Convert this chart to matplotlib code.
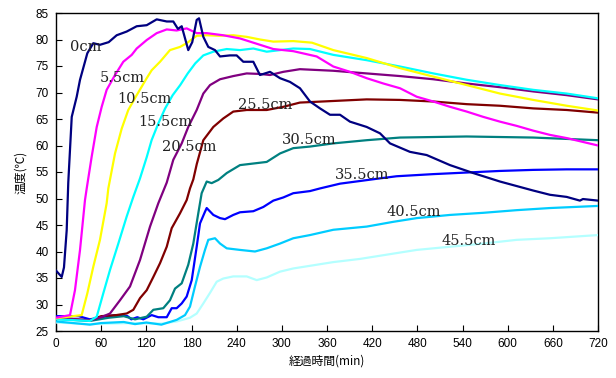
import matplotlib
matplotlib.use("Agg")
import matplotlib.pyplot as plt

labels = ["0cm", "5.5cm", "10.5cm", "15.5cm", "20.5cm", "25.5cm",
          "30.5cm", "35.5cm", "40.5cm", "45.5cm"]
colors = ["#000080", "#FF00FF", "#FFFF00", "#00FFFF", "#800080", "#800000",
          "#008080", "#0000FF", "#00CCFF", "#B4FFFF"]

t_0 = [0, 7.6, 10.6, 14.2, 16.3, 20.9, 27.5, 31.9, 38.5, 41.6, 49.5, 58.4, 70, 80.6, 93.9, 107.2,
       120.5, 133.8, 147.1, 155.8, 162, 167, 175.7, 181, 186.9, 190, 195.7, 202.3, 211.2, 217.9,
       231.1, 240, 248.8, 262.1, 270.9, 284.3, 297.6, 310.8, 324.1, 337.4, 350.7, 364, 377.3,
       390.5, 412.7, 430.4, 443.7, 470.2, 492.4, 523.4, 554.3, 589.8, 634, 656.2, 678.4, 696, 700, 720]
T_0 = [36.4, 35.2, 37, 44, 53, 65.4, 69.2, 72.4, 75.8, 77.4, 79.3, 79.0, 79.5, 80.8, 81.5, 82.5,
       82.7, 83.8, 83.4, 83.4, 82.0, 82.5, 78, 79.5, 83.7, 84, 80.5, 78.6, 78, 76.8,
       77, 77, 75.8, 75.8, 73.3, 73.9, 72.7, 72, 70.8, 68.3, 67, 65.8, 65.8,
       64.5, 63.5, 62.3, 60.4, 58.8, 58.2, 56.3, 54.8, 53.2, 51.5, 50.7, 50.3, 49.6, 49.9, 49.6]

t_5 = [0, 18.6, 25.2, 31.9, 38.5, 40.8, 47.4, 54.1, 60.7, 67.3, 78.4, 89.4, 100.6, 107.2, 120.5,
       133.8, 147.1, 160.3, 173.6, 186.9, 200.2, 222.2, 244.4, 271, 288.7, 315.2, 346.3, 368.4,
       390.5, 412.7, 434.8, 457, 479.2, 501.2, 523.4, 545.6, 567.6, 589.8, 612, 634, 656.2, 678.4, 720]
T_5 = [27.5, 28, 32.7, 40.3, 49.7, 51.9, 57.9, 63.5, 67.3, 70.5, 73.3, 75.8, 77.1, 78.3, 79.9,
       81.2, 81.9, 81.7, 82.1, 81.2, 81.2, 80.8, 80.2, 79, 78.2, 77.8, 76.8, 74.9,
       73.9, 72.7, 71.7, 70.8, 69.2, 68.3, 67.3, 66.4, 65.4, 64.5, 63.7, 62.8, 62, 61.4, 60]

t_10 = [0, 34.1, 41.6, 49.5, 58.4, 67.3, 69.5, 78.4, 87.3, 96, 107.2, 120.5, 127.1, 138.2, 151.4,
        164.7, 173.6, 186.9, 200.2, 217.9, 235.5, 253.3, 271, 288.7, 315.2, 340, 368.4, 412.7,
        457, 501.2, 545.6, 589.8, 634, 678.4, 720]
T_10 = [27.4, 28, 32.1, 37.1, 42.2, 49.1, 51.9, 58.5, 63.2, 66.7, 69.5, 72.7, 74.2, 75.8, 78,
        78.6, 79.3, 80.7, 80.8, 80.7, 80.8, 80.5, 80, 79.6, 79.7, 79.4, 78, 76.5,
        74.6, 73, 71.4, 69.8, 68.6, 67.5, 66.6]

t_15 = [0, 45, 54.1, 62.8, 71.7, 82.8, 93.9, 102.7, 111.6, 120.5, 127, 136, 145, 155, 165, 175,
        185, 195.7, 209, 226.8, 244.4, 262.1, 279.9, 297.6, 315.2, 337.4, 368.4, 412.7, 457,
        501.2, 545.6, 589.8, 634, 678.4, 720]
T_15 = [27.2, 26.9, 27.7, 32.1, 36.5, 41.5, 46.6, 50.3, 53.8, 57.8, 61, 64.2, 67, 69.5, 71.4, 73.6,
        75.5, 77, 77.7, 78.2, 78, 78.3, 77.7, 78, 78.3, 78.2, 77.1, 76.1, 74.9,
        73.6, 72.4, 71.4, 70.5, 69.8, 68.9]

t_20 = [0, 45, 60, 71.7, 85, 98.3, 111.6, 124.9, 135.9, 147.1, 155.8, 167, 175.7, 186.9, 195.7,
        204.6, 217.9, 235.5, 253.3, 271, 284.3, 302, 315.2, 324, 368.4, 412.7, 457, 501.2,
        545.6, 589.8, 634, 678.4, 720]
T_20 = [27.5, 27, 27.6, 28.3, 30.8, 33.4, 38.4, 44.7, 49.1, 53, 57.3, 60.4, 63.5, 66.7, 69.8,
        71.4, 72.5, 73.1, 73.6, 73.5, 73.3, 73.9, 74.2, 74.4, 74.1, 73.6, 73.1, 72.5,
        71.7, 71, 70.2, 69.5, 68.7]

t_25 = [0, 45, 60, 80, 93.9, 102.7, 111.6, 120.5, 129.3, 138.2, 147.1, 153.7, 164.7, 173.6, 178,
        182.4, 187, 195.7, 209, 222.2, 235.5, 253.3, 279.9, 302, 324, 368.4, 412.7, 457, 501.2,
        545.6, 589.8, 634, 678.4, 720]
T_25 = [27.5, 27, 27.8, 28, 28.3, 29, 31.2, 32.7, 35.2, 37.8, 40.9, 44.4, 47.2, 49.7, 51.9,
        53.6, 56.5, 61, 63.5, 65.1, 66.4, 66.7, 66.7, 67.3, 68.1, 68.4, 68.7, 68.6, 68.3,
        67.8, 67.5, 67, 66.7, 66.2]

t_30 = [0, 45, 70, 90, 105, 120.5, 129.3, 142.5, 151.4, 158.1, 167, 175.7, 182.4, 189, 193.5,
        200.2, 206.8, 215.6, 226.8, 244.4, 262.1, 279.9, 297.6, 315.2, 337.4, 368.4, 412.7,
        457, 545.6, 634, 720]
T_30 = [27.3, 26.9, 27.5, 27.8, 27.2, 27.7, 29, 29.3, 30.8, 33, 34, 37.5, 41.5, 47.2, 51,
        53.2, 52.9, 53.5, 54.8, 56.3, 56.6, 56.9, 58.5, 59.5, 59.8, 60.4, 61,
        61.5, 61.7, 61.5, 61]

t_35 = [0, 30, 45, 60, 80, 95, 100, 108, 116, 127.1, 135.9, 147.1, 153.7, 160.3, 167, 173.6,
        180.3, 186.9, 191.3, 197.9, 200.2, 209, 217.9, 224.5, 235.5, 244.4, 262.1, 275.4, 288.7,
        302, 315.2, 337.4, 350.7, 377.3, 403.8, 430.4, 452.6, 501.2, 545.6, 589.8, 634, 678.4, 720]
T_35 = [27.8, 27.8, 27.2, 27.6, 28, 27.8, 27.2, 27.6, 27.2, 28, 27.6, 27.6, 29.3, 29.3, 30.2, 31.5,
        34.6, 40.9, 45.3, 47.5, 48.2, 46.9, 46.3, 46.1, 46.9, 47.4, 47.6, 48.4, 49.6,
        50.2, 51, 51.4, 51.9, 52.8, 53.3, 53.8, 54.2, 54.6, 54.9, 55.2, 55.4, 55.5, 55.5]

t_40 = [0, 45, 60, 90, 105, 120, 140, 160.3, 171.4, 178, 184.6, 191.3, 197.9, 202.3, 211.2,
        217.9, 226.8, 244.4, 264.3, 279.9, 297.6, 315.2, 337.4, 368.4, 412.7, 448.1, 479.2,
        523.4, 567.6, 612, 656.2, 720]
T_40 = [26.8, 26.2, 26.5, 26.7, 26.3, 26.6, 26.2, 27.1, 28, 29.6, 33.4, 37.1, 40.3, 42.2, 42.5,
        41.5, 40.6, 40.3, 40, 40.6, 41.5, 42.5, 43.1, 44.1, 44.7, 45.6, 46.3,
        46.9, 47.3, 47.8, 48.2, 48.6]

t_45 = [0, 45, 100, 140, 160.3, 178, 186.9, 195.7, 204.6, 213.5, 222.2, 235.5, 253.3, 266.6,
        279.9, 297.6, 315.2, 337.4, 368.4, 403.8, 448.1, 479.2, 523.4, 567.6, 612, 656.2, 720]
T_45 = [26.6, 26.3, 26.5, 26.4, 26.8, 27.5, 28.3, 30.2, 32.2, 34.3, 34.9, 35.3, 35.3, 34.6,
        35.1, 36.2, 36.8, 37.3, 38, 38.6, 39.6, 40.3, 40.9, 41.5, 42.2, 42.5, 43.1]

series_t = [t_0, t_5, t_10, t_15, t_20, t_25, t_30, t_35, t_40, t_45]
series_T = [T_0, T_5, T_10, T_15, T_20, T_25, T_30, T_35, T_40, T_45]

label_t = [18.6, 58.4, 81, 109, 140.8, 242, 300, 370.6, 439.7, 512.7]
label_T = [78.6, 72.7, 68.8, 64.4, 59.7, 67.6, 61.0, 54.4, 47.5, 42.0]

x_ticks = list(range(0, 721, 60))
y_ticks = list(range(25, 86, 5))

fig = plt.figure(figsize=(6.16, 3.78), dpi=100)
ax = fig.add_axes([56/616, 1-331/378, (598-56)/616, (331-13)/378])

n = len(labels)
for i in range(n):
    ax.plot(series_t[i], series_T[i], color=colors[i], lw=1.6, zorder=10 + n - i)

for i in range(n):
    ax.text(label_t[i], label_T[i], labels[i], family="DejaVu Serif", fontsize=10.5,
            ha="left", va="center", color="#222222", zorder=30)

ax.set_xlim(0, 720)
ax.set_ylim(25, 85)
ax.set_xticks(x_ticks)
ax.set_yticks(y_ticks)
ax.tick_params(direction="in", length=4, width=0.8, labelsize=8.5, pad=5)
for lab in ax.get_xticklabels() + ax.get_yticklabels():
    lab.set_family("Liberation Sans")
for sp in ax.spines.values():
    sp.set_linewidth(1.0)
    sp.set_color("#000000")

ax.set_xlabel("経過時間(min)", family=["Noto Sans CJK JP", "DejaVu Sans"], fontsize=8.5, labelpad=3)
ax.set_ylabel("温度(℃)", family=["Noto Sans CJK JP", "DejaVu Sans"], fontsize=8.5, labelpad=6)

fig.savefig("out.png", dpi=100)
